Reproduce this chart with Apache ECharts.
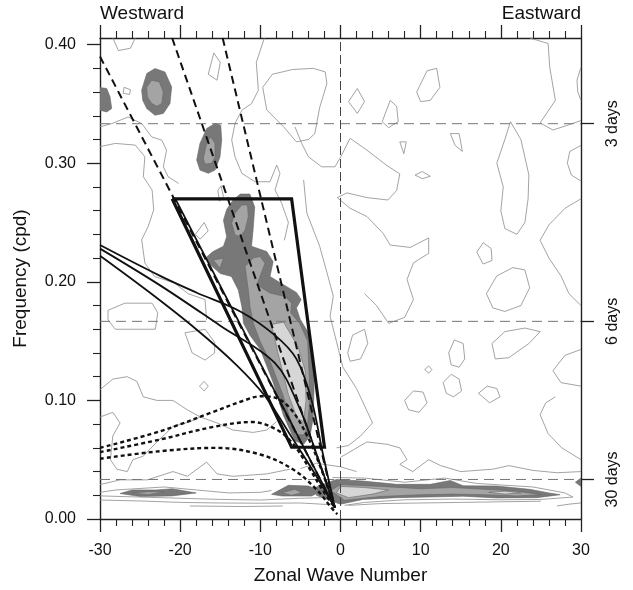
<!DOCTYPE html>
<html>
<head>
<meta charset="utf-8">
<script src="https://cdn.jsdelivr.net/npm/echarts@6/dist/echarts.min.js"></script>
<style>html,body{margin:0;padding:0;background:#fff}#c{width:633px;height:590px}</style>
</head>
<body>
<div id="c"></div>
<script>
// ---------- axis / tick data ----------
const xRange = [-30, 30];
const yRange = [0, 0.4056];
const yMajorTicks = [0, 0.1, 0.2, 0.3, 0.4];
const yMinorTicks = [0.02,0.04,0.06,0.08,0.12,0.14,0.16,0.18,0.22,0.24,0.26,0.28,0.32,0.34,0.36,0.38];
const periodTicks = [1/30, 1/6, 1/3];
const periodLabels = ['30 days', '6 days', '3 days'];

// ---------- theoretical lines ----------
const conv = [-0.7, 0.0096];
const dashA = [[-30, 0.390], conv];
const dashB = [[-21.0, 0.4056], conv];
const dashC = [[-14.7, 0.4056], conv];
const solidStraight = [[-20.6, 0.270], conv];
const solid1 = [[-30,0.231],[-22.5,0.205],[-18,0.191],[-12.5,0.175],[-8.2,0.155],[-5.5,0.135],[-3.6,0.10],[-2.2,0.055],conv];
const solid2 = [[-30,0.228],[-22.5,0.197],[-15,0.163],[-8.2,0.1316],[-5.2,0.095],[-3,0.055],conv];
const solid3 = [[-30,0.222],[-24,0.192],[-18,0.160],[-13,0.130],[-9.4,0.1035],[-6,0.068],[-3,0.036],conv];
const dotted1 = [[-30,0.060],[-22.5,0.074],[-16,0.090],[-12,0.100],[-10,0.1035],[-8,0.102],[-6,0.091],[-4,0.068],[-2.4,0.042],conv];
const dotted2 = [[-30,0.0564],[-22.5,0.067],[-16,0.0775],[-11,0.0818],[-8,0.0755],[-6,0.064],[-4,0.044],[-2.2,0.024],conv];
const dotted3 = [[-30,0.0508],[-22.5,0.0572],[-15.5,0.060],[-10,0.0544],[-5.9,0.0418],[-3,0.025],[-1.2,0.010],[-0.4,0.004]];
const boxPts = [[-21,0.270],[-6.1,0.270],[-2.0,0.0605],[-6.1,0.0605],[-21,0.270]];
const refPeriodLines = [1/3, 1/6, 1/30];

// ---------- shaded contour regions ----------
const blobNW_dark = [[-24.8,0.3616],[-24.17,0.3756],[-23.14,0.3798],[-21.9,0.377],[-21.06,0.3643],[-21.27,0.3504],[-22.1,0.342],[-23.14,0.3405],[-24.17,0.3461],[-24.67,0.3531]];
const blobNW_mid = [[-24.17,0.3643],[-23.55,0.3700],[-22.6,0.3686],[-22.1,0.3601],[-22.3,0.3504],[-22.9,0.348],[-23.55,0.3504],[-24.1,0.356]];
const blobEdge_dark = [[-30,0.3638],[-29.16,0.363],[-28.75,0.356],[-28.54,0.3461],[-29.16,0.3433],[-30,0.3447]];
const blobN_dark = [[-17.94,0.3027],[-17.53,0.3167],[-16.69,0.3293],[-15.65,0.3335],[-14.94,0.3321],[-14.82,0.3196],[-15.03,0.3054],[-15.65,0.2942],[-16.49,0.2915],[-17.53,0.2942]];
const blobN_mid = [[-17.1,0.304],[-16.7,0.3167],[-16.2,0.3222],[-15.65,0.3167],[-15.65,0.3054],[-16.07,0.2999],[-16.9,0.2993]];
const main_dark = [[-12.5,0.274],[-11.3,0.274],[-10.7,0.263],[-10.9,0.244],[-11.1,0.230],[-9.2,0.2255],[-8.4,0.217],[-8.8,0.2045],[-7.1,0.1975],[-5.5,0.191],[-4.9,0.185],[-5.5,0.178],[-5.0,0.168],[-3.9,0.156],[-3.4,0.135],[-3.3,0.110],[-3.4,0.085],[-3.8,0.070],[-4.6,0.063],[-5.7,0.066],[-7.1,0.087],[-8.4,0.115],[-10.0,0.143],[-11.3,0.155],[-12.1,0.165],[-12.3,0.179],[-12.75,0.193],[-13.6,0.2045],[-15.0,0.207],[-16.5,0.216],[-16.7,0.221],[-15.9,0.2255],[-14.6,0.230],[-14.2,0.238],[-14.6,0.252],[-14.2,0.261],[-13.4,0.269]];
const main_mid_top = [[-13.16,0.2578],[-12.32,0.2648],[-11.6,0.2648],[-11.5,0.255],[-11.9,0.2438],[-12.5,0.2381],[-13.16,0.2395],[-13.57,0.2494]];
const main_mid_left = [[-15.87,0.2185],[-14.6,0.2199],[-15.03,0.2115]];
const main_mid = [[-11.9,0.2129],[-10.88,0.220],[-10.04,0.2213],[-9.42,0.2157],[-10.04,0.2045],[-10.45,0.1975],[-8.79,0.1905],[-6.92,0.1876],[-6.1,0.182],[-6.2,0.1737],[-5.1,0.165],[-4.1,0.150],[-3.9,0.120],[-3.9,0.095],[-4.1,0.080],[-4.5,0.071],[-5.4,0.071],[-6.3,0.085],[-7.2,0.105],[-8.6,0.130],[-10.04,0.150],[-10.88,0.1652],[-11.29,0.1792],[-11.5,0.1933]];
const main_light = [[-8.6,0.164],[-7.1,0.166],[-5.3,0.145],[-4.4,0.125],[-4.3,0.100],[-4.6,0.082],[-5.4,0.085],[-6.5,0.105],[-7.8,0.140]];
const band_dark = [[-3,0.027],[-1.5,0.031],[-0.5,0.0334],[2.8,0.032],[7,0.0292],[11.2,0.0292],[13.7,0.0325],[15.3,0.028],[19.5,0.0278],[23.6,0.025],[26,0.022],[27.4,0.0205],[24.5,0.018],[19.5,0.0178],[15.3,0.0192],[11.2,0.0186],[7,0.018],[2.8,0.0165],[0,0.0125],[-1.5,0.016],[-3,0.020]];
const band_mid = [[-1.2,0.024],[0,0.029],[5,0.0275],[10,0.0255],[14,0.0265],[18,0.025],[22,0.0235],[25,0.0205],[22,0.0195],[18,0.0205],[14,0.021],[10,0.0205],[5,0.019],[0.5,0.0158]];
const band_light1 = [[-0.5,0.022],[0,0.0275],[3,0.0265],[6,0.0245],[4,0.021],[1,0.018]];
const band_light2 = [[18.5,0.0225],[20.5,0.0235],[22.5,0.022],[20.5,0.021]];
const bandW1_dark = [[-27.5,0.0215],[-26,0.0245],[-23,0.0245],[-21,0.0255],[-18,0.022],[-21,0.0195],[-25,0.019]];
const bandW1_mid = [[-26,0.022],[-24,0.023],[-22,0.023],[-24,0.0205]];
const bandW2_dark = [[-8.6,0.0208],[-6.5,0.0284],[-4.0,0.0278],[-2.35,0.0236],[-3.6,0.0194],[-7.3,0.0194]];
const bandW2_mid = [[-7.3,0.0222],[-5.7,0.025],[-4.8,0.0222],[-6.1,0.020]];
const edgeE_dark = [[30,0.0345],[29.3,0.031],[30,0.0275]];

// ---------- thin contour lines ----------
const thinContours = [
  [[-9.7,0.364],[-8.5,0.375],[-6,0.379],[-3.4,0.380],[-1.9,0.377],[-1.7,0.367],[-2.6,0.347],[-3.2,0.325],[-4.0,0.320],[-5.5,0.318],[-7,0.33],[-9.2,0.345],[-9.7,0.364]],
  [[-16.5,0.375],[-15.8,0.393],[-15.0,0.385],[-15.4,0.370],[-16.5,0.375]],
  [[-27,0.364],[-26.2,0.362],[-26.3,0.358],[-27.1,0.359],[-27,0.364]],
  [[-28.4,0.4056],[-27.7,0.395],[-26.2,0.397],[-25.6,0.4056]],
  [[1.0,0.352],[2.1,0.363],[3.0,0.352],[2.1,0.342],[1.0,0.352]],
  [[9.5,0.36],[10.8,0.378],[12.0,0.380],[12.4,0.364],[11.2,0.353],[10.0,0.352],[9.5,0.36]],
  [[5.2,0.335],[6.2,0.353],[7.0,0.348],[7.2,0.335],[6.0,0.330],[5.2,0.335]],
  [[13.7,0.325],[14.8,0.325],[15.2,0.310],[14.3,0.315],[13.7,0.325]],
  [[7.4,0.318],[8.2,0.318],[7.9,0.308],[7.4,0.318]],
  [[9.3,0.290],[10.2,0.293],[11.2,0.289],[10.2,0.287],[9.3,0.290]],
  [[21.2,0.335],[22.5,0.320],[23.5,0.290],[23.4,0.270],[23.0,0.250],[22.0,0.240],[20.5,0.245],[20,0.26],[20.3,0.28],[19.5,0.30],[20.5,0.32],[21.2,0.335]],
  [[23.6,0.4056],[25.9,0.401],[26.1,0.381],[26.8,0.353],[24.9,0.334],[26.5,0.328],[28.3,0.332],[30,0.336]],
  [[30,0.381],[29.5,0.37],[29.6,0.36],[30,0.353]],
  [[30,0.315],[28.6,0.31],[28.3,0.30],[28.8,0.29],[30,0.285]],
  [[-13.16,0.3335],[-12.3,0.3447],[-11.1,0.3503],[-10.25,0.3615],[-10.5,0.385],[-9.5,0.4056]],
  [[-13.16,0.3335],[-13.57,0.3195],[-13.16,0.3054],[-12.3,0.2914],[-10.66,0.2844],[-8.8,0.2844],[-7.96,0.2984],[-7.55,0.2914],[-8.17,0.2774],[-7.34,0.2662],[-6.5,0.25],[-7,0.235]],
  [[-5.68,0.3307],[-4.84,0.3167],[-4.0,0.3054],[-2.35,0.297],[-0.69,0.297],[0,0.305],[1.2,0.321],[3.3,0.311],[5.8,0.298],[7.4,0.291],[7.0,0.277],[5.9,0.269],[3.3,0.271],[0.8,0.275],[-0.4,0.271],[1.2,0.262],[3.3,0.255],[5.3,0.241],[6.2,0.231],[8.7,0.229],[11,0.237],[11,0.224],[9.1,0.216],[8.3,0.202],[9.1,0.185],[8,0.17],[6,0.165],[4.5,0.18],[3,0.19]],
  [[-4.6,0.286],[-4.2,0.258],[-2.6,0.230],[-1.7,0.208],[-0.9,0.188],[-1.3,0.171],[0.3,0.128],[2,0.11],[4,0.081],[2.5,0.07],[1,0.062],[-0.5,0.06]],
  [[17,0.225],[17.8,0.233],[18.8,0.228],[18.9,0.218],[17.8,0.215],[17,0.225]],
  [[18.2,0.19],[19.5,0.205],[21.5,0.212],[23,0.21],[23.6,0.195],[22.5,0.18],[20.5,0.175],[19,0.178],[18.2,0.19]],
  [[30,0.27],[28,0.262],[26,0.248],[24.9,0.235],[26,0.22],[27.5,0.205],[28.5,0.19],[30,0.18]],
  [[0.9,0.14],[1.5,0.155],[3.0,0.16],[3.4,0.148],[2.5,0.135],[1.2,0.133],[0.9,0.14]],
  [[13.5,0.14],[14.2,0.151],[15.3,0.148],[15.5,0.135],[14.8,0.128],[13.8,0.13],[13.5,0.14]],
  [[18.9,0.148],[20.5,0.158],[23,0.161],[24.9,0.158],[23.5,0.148],[21,0.136],[19.3,0.135],[18.9,0.148]],
  [[10.5,0.126],[11,0.129],[11.4,0.126],[11,0.123],[10.5,0.126]],
  [[12.8,0.115],[13.8,0.122],[14.8,0.118],[15.1,0.108],[14.1,0.103],[13.2,0.106],[12.8,0.115]],
  [[8.0,0.10],[9.1,0.108],[10.3,0.107],[10.8,0.098],[9.8,0.09],[8.5,0.092],[8.0,0.10]],
  [[17.2,0.106],[18.3,0.112],[19.5,0.11],[19.9,0.103],[18.6,0.098],[17.2,0.106]],
  [[30,0.143],[28,0.138],[26.5,0.125],[27.5,0.115],[30,0.112]],
  [[26.8,0.103],[25.6,0.098],[24.9,0.088],[25.9,0.072],[27.6,0.06],[30,0.05]],
  [[0,0.052],[3.3,0.065],[5.8,0.063],[7.4,0.06],[8.3,0.05],[7.4,0.046],[9,0.04],[11,0.05],[12.5,0.045],[15,0.04],[19,0.042],[21,0.045],[24,0.041],[27,0.039],[30,0.04]],
  [[-30,0.109],[-28.4,0.118],[-26.6,0.120],[-25.4,0.116],[-24.6,0.103],[-22.9,0.100],[-20.9,0.100],[-19.1,0.092],[-17.5,0.086],[-15.4,0.081],[-13.4,0.075],[-10.9,0.073],[-9.2,0.075],[-8,0.082]],
  [[-30,0.086],[-28.4,0.09],[-27.5,0.081],[-28.4,0.07],[-28.7,0.05],[-27.9,0.042],[-26.6,0.04],[-25.9,0.05],[-24.6,0.053],[-22.9,0.065],[-20.9,0.078],[-18.8,0.082],[-17.5,0.086]],
  [[-30,0.029],[-27.5,0.033],[-24.1,0.033],[-20.9,0.040],[-19.1,0.036],[-16.7,0.048],[-15.4,0.038],[-13.4,0.036],[-9.2,0.038],[-6.3,0.042]],
  [[-29,0.176],[-26.9,0.182],[-23.5,0.182],[-22.8,0.174],[-23.1,0.160],[-26.5,0.160],[-28.1,0.160],[-29,0.168],[-29,0.176]],
  [[-19.4,0.157],[-16.9,0.160],[-15.7,0.149],[-15.7,0.140],[-16.9,0.134],[-18.5,0.140],[-19.4,0.157]],
  [[-17.6,0.112],[-17,0.116],[-16.5,0.112],[-17,0.108],[-17.6,0.112]],
  [[-30,0.314],[-28.1,0.3167],[-25.6,0.3153],[-24.4,0.3054],[-24.6,0.2886],[-23.5,0.2774],[-23.3,0.2606],[-24,0.2466],[-24.8,0.2354],[-24.4,0.2158],[-23.2,0.2045],[-21.9,0.2017],[-20.7,0.1989],[-19,0.19],[-16.9,0.185],[-16.7,0.168]],
  [[-30,0.3307],[-28.5,0.3335],[-26.5,0.339],[-24.8,0.3335],[-23.55,0.3222],[-22.3,0.3195],[-21.7,0.311],[-22.1,0.297],[-21.5,0.2886],[-20.2,0.283]],
  [[-15.3,0.277],[-14.9,0.281],[-14.6,0.272],[-15.1,0.268],[-15.3,0.277]],
  [[-18.1,0.240],[-17,0.250],[-16.5,0.243],[-17.5,0.236],[-18.1,0.240]],
  [[-30,0.0195],[-25,0.0185],[-20,0.0175],[-15,0.0165],[-10,0.016],[-5,0.0175],[-2,0.018]],
  [[-30,0.016],[-25,0.0152],[-20,0.014],[-15,0.0135],[-10,0.0133],[-5,0.0135],[-1,0.012]],
  [[-18.8,0.011],[-12,0.0105],[-7.2,0.011]],
  [[-30,0.0225],[-28,0.0245],[-22,0.027],[-18,0.0245],[-14,0.022],[-10,0.0225],[-8.6,0.024]],
  [[-1,0.035],[3,0.0345],[8,0.031],[13,0.0345],[17,0.030],[24,0.027],[28,0.022],[29,0.0185],[25,0.0165],[20,0.0162],[14,0.0168],[8,0.0162],[3,0.014],[0.5,0.0115]],
  [[1,0.0115],[5,0.013],[10,0.0135],[15,0.014],[20,0.0145],[25,0.015]],
  [[27,0.011],[28.5,0.0125],[30,0.0135]],
  [[-5,0.0425],[-3,0.047],[0,0.044],[2,0.04]]
];

// ---------- styles ----------
const DARK = '#787878', MID = '#a4a4a4', LIGHT = '#d6d6d6';
const shaded = [
  [blobNW_dark, DARK],[blobEdge_dark, DARK],[blobN_dark, DARK],[main_dark, DARK],
  [band_dark, DARK],[bandW1_dark, DARK],[bandW2_dark, DARK],[edgeE_dark, DARK],
  [blobNW_mid, MID],[blobN_mid, MID],[main_mid_top, MID],[main_mid_left, MID],[main_mid, MID],
  [band_mid, MID],[bandW1_mid, MID],[bandW2_mid, MID],
  [main_light, LIGHT],[band_light1, LIGHT],[band_light2, LIGHT]
];

const series = [];
series.push({
  type: 'custom', xAxisIndex: 0, yAxisIndex: 0, silent: true, clip: true, z: 1,
  data: shaded.map((s, i) => [s[0][0][0], s[0][0][1], i]),
  renderItem: function (params, api) {
    const s = shaded[api.value(2)];
    return {
      type: 'polygon',
      shape: { points: s[0].map(p => api.coord(p)) },
      style: { fill: s[1], stroke: '#666', lineWidth: 0.6 }
    };
  }
});
function addLine(pts, style, smooth, z) {
  series.push({
    type: 'line', xAxisIndex: 0, yAxisIndex: 0, data: pts, showSymbol: false, symbol: 'none',
    silent: true, smooth: smooth || false, z: z || 3, clip: true,
    lineStyle: style
  });
}
thinContours.forEach(c => addLine(c, { color: '#8c8c8c', width: 0.8 }, false, 2));
refPeriodLines.forEach(v => addLine([[-30, v], [30, v]], { color: '#777', width: 1, type: [10, 6] }, false, 4));
addLine([[0, 0], [0, yRange[1]]], { color: '#444', width: 1, type: [9, 4] }, false, 4);
addLine(dashA, { color: '#111', width: 2, type: [8, 5] }, false, 6);
addLine(dashB, { color: '#111', width: 2, type: [8, 5] }, false, 6);
addLine(dashC, { color: '#111', width: 2, type: [8, 5] }, false, 6);
addLine(solidStraight, { color: '#111', width: 1.8 }, false, 6);
addLine(solid1, { color: '#111', width: 1.8 }, 0.35, 6);
addLine(solid2, { color: '#111', width: 1.8 }, 0.35, 6);
addLine(solid3, { color: '#111', width: 1.8 }, 0.35, 6);
addLine(dotted1, { color: '#111', width: 2.4, type: [4, 3] }, 0.35, 6);
addLine(dotted2, { color: '#111', width: 2.4, type: [4, 3] }, 0.35, 6);
addLine(dotted3, { color: '#111', width: 2.4, type: [4, 3] }, 0.35, 6);
addLine(boxPts, { color: '#111', width: 3.2, join: 'miter' }, false, 7);

const FONT = 'Liberation Sans, Arial, Helvetica, sans-serif';
const axisLine = { show: true, onZero: false, lineStyle: { color: '#222', width: 1.4 } };
const noLine = { show: false, onZero: false };
const chart = echarts.init(document.getElementById('c'), null, { renderer: 'canvas' });
chart.setOption({
  animation: false,
  backgroundColor: '#fff',
  grid: { left: 100, right: 52, top: 38, bottom: 70, containLabel: false },
  graphic: [
    { type: 'text', left: 100, top: 4, style: { text: 'Westward', font: '19px ' + FONT, fill: '#111' } },
    { type: 'text', right: 52, top: 4, style: { text: 'Eastward', font: '19px ' + FONT, fill: '#111' } }
  ],
  xAxis: [
    { type: 'value', position: 'bottom', min: xRange[0], max: xRange[1], interval: 10,
      axisLine: axisLine, splitLine: { show: false },
      axisTick: { show: true, inside: false, length: 13, lineStyle: { color: '#222', width: 1.3 } },
      minorTick: { show: true, splitNumber: 5, length: 7, lineStyle: { color: '#222', width: 1.1 } },
      axisLabel: { fontSize: 16, fontFamily: FONT, color: '#111', margin: 24 },
      name: 'Zonal Wave Number', nameLocation: 'middle', nameGap: 47,
      nameTextStyle: { fontSize: 19, fontFamily: FONT, color: '#111' } },
    { type: 'value', position: 'top', min: xRange[0], max: xRange[1], interval: 10,
      axisLine: axisLine, splitLine: { show: false },
      axisTick: { show: true, inside: false, length: 13, lineStyle: { color: '#222', width: 1.3 } },
      minorTick: { show: true, splitNumber: 5, length: 7, lineStyle: { color: '#222', width: 1.1 } },
      axisLabel: { show: false } }
  ],
  yAxis: [
    { type: 'value', position: 'left', min: yRange[0], max: yRange[1],
      axisLine: axisLine, splitLine: { show: false }, axisTick: { show: false }, axisLabel: { show: false },
      name: 'Frequency (cpd)', nameLocation: 'middle', nameGap: 70,
      nameTextStyle: { fontSize: 19, fontFamily: FONT, color: '#111' } },
    { type: 'value', position: 'left', offset: 0, min: yRange[0], max: yRange[1],
      axisLine: noLine, splitLine: { show: false },
      axisTick: { show: true, inside: false, length: 13, customValues: yMajorTicks, lineStyle: { color: '#222', width: 1.3 } },
      axisLabel: { show: true, customValues: yMajorTicks, fontSize: 16, fontFamily: FONT, color: '#111', margin: 24,
        formatter: v => v.toFixed(2) } },
    { type: 'value', position: 'left', offset: 0, min: yRange[0], max: yRange[1],
      axisLine: noLine, splitLine: { show: false },
      axisTick: { show: true, inside: false, length: 7, customValues: yMinorTicks, lineStyle: { color: '#222', width: 1.1 } },
      axisLabel: { show: false } },
    { type: 'value', position: 'right', offset: 0, min: yRange[0], max: yRange[1],
      axisLine: axisLine, splitLine: { show: false },
      axisTick: { show: true, inside: false, length: 13, customValues: periodTicks, lineStyle: { color: '#222', width: 1.3 } },
      axisLabel: { show: true, customValues: periodTicks, rotate: 90, fontSize: 16, fontFamily: FONT, color: '#111', margin: 24,
        formatter: function (v) {
          let best = 0;
          periodTicks.forEach((t, i) => { if (Math.abs(t - v) < Math.abs(periodTicks[best] - v)) best = i; });
          return periodLabels[best];
        } } }
  ],
  series: series
});
</script>
</body>
</html>
